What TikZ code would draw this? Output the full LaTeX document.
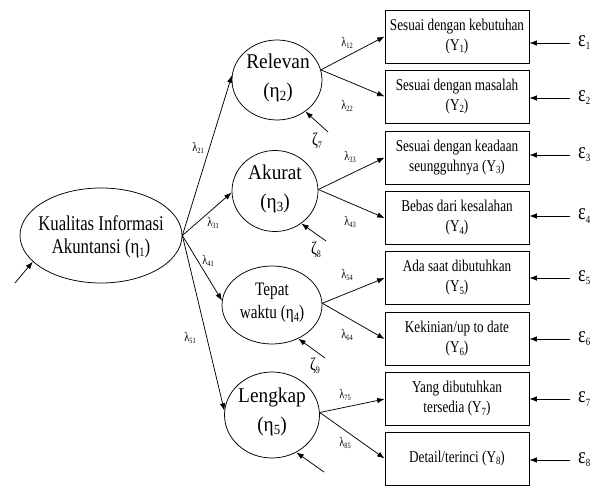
\documentclass[tikz,border=0pt]{standalone}
\usepackage{fontspec}
\setmainfont{Liberation Serif}[FakeStretch=0.8]
\newfontfamily\circfont{Liberation Serif}[FakeStretch=0.92]
\usetikzlibrary{arrows.meta,shapes.geometric}
\newcommand{\mysub}[2][8]{\raisebox{-0.3ex}{\fontsize{#1}{#1}\selectfont #2}}
\newcommand{\lamlab}[1]{λ\mysub[8]{#1}}
\begin{document}
\begin{tikzpicture}[x=1pt,y=-1pt,
  arr/.style={-{Latex[length=7.5pt,width=5.5pt]}, line width=0.75pt},
  lat/.style={ellipse, draw, line width=0.75pt, inner sep=0pt},
  lattext/.style={inner sep=0pt, align=center},
  ind/.style={rectangle, draw, line width=0.75pt, minimum width=144pt, minimum height=53pt,
              inner sep=1pt, align=center, font=\fontsize{16.5}{20}\selectfont},
  lab/.style={inner sep=0pt, font=\fontsize{13}{13}\selectfont},
  zlab/.style={inner sep=0pt, font=\fontsize{18}{18}\selectfont},
  elab/.style={inner sep=0pt, anchor=west, font=\fontsize{23}{23}\selectfont}]
\useasboundingbox (0,0) rectangle (599,486);

% latent variables (outline, then text)
\node[lat, minimum width=162pt, minimum height=95pt] (k) at (101,235.5) {};
\node[lattext, font=\fontsize{21}{23}\selectfont] (kt) at (101,237)
  {Kualitas Informasi\\Akuntansi (η\mysub[13]{1})};
\node[lat, minimum width=90pt, minimum height=80pt] (rel) at (277,80) {};
\node[lattext, font=\circfont\fontsize{21}{29}\selectfont] (relt) at (278,78)
  {Relevan\\(η\mysub[14]{2})};
\node[lat, minimum width=86pt, minimum height=81pt] (ak) at (275,191) {};
\node[lattext, font=\circfont\fontsize{21}{29}\selectfont] (akt) at (275,189)
  {Akurat\\(η\mysub[14]{3})};
\node[lat, minimum width=100pt, minimum height=78pt] (tw) at (272,305) {};
\node[lattext, font=\fontsize{19}{23}\selectfont] (twt) at (272,303)
  {Tepat\\waktu (η\mysub[13]{4})};
\node[lat, minimum width=95pt, minimum height=86pt] (lk) at (272,415) {};
\node[lattext, font=\circfont\fontsize{21}{29}\selectfont] (lkt) at (272,412)
  {Lengkap\\(η\mysub[14]{5})};

% indicators
\node[ind] (b1) at (457,36.5) {Sesuai dengan kebutuhan\\(Y\mysub[11]{1})};
\node[ind] (b2) at (457,96.5) {Sesuai dengan masalah\\(Y\mysub[11]{2})};
\node[ind] (b3) at (457,157.5) {Sesuai dengan keadaan\\seungguhnya (Y\mysub[11]{3})};
\node[ind] (b4) at (457,218) {Bebas dari kesalahan\\(Y\mysub[11]{4})};
\node[ind] (b5) at (457,278) {Ada saat dibutuhkan\\(Y\mysub[11]{5})};
\node[ind] (b6) at (457,339) {Kekinian/up to date\\(Y\mysub[11]{6})};
\node[ind] (b7) at (457,399) {Yang dibutuhkan\\tersedia (Y\mysub[11]{7})};
\node[ind] (b8) at (457,458.5) {Detail/terinci (Y\mysub[11]{8})};

% structural paths
\draw[arr] (k.east) -- (rel.174);
\draw[arr] (k.east) -- (ak.182);
\draw[arr] (k.east) -- (tw.175);
\draw[arr] (k.east) -- (lk.175);

% measurement paths
\draw[arr] (rel.13) -- (b1.west);
\draw[arr] (rel.13) -- (b2.west);
\draw[arr] (ak.2) -- (b3.west);
\draw[arr] (ak.2) -- (b4.west);
\draw[arr] (tw.2) -- (b5.west);
\draw[arr] (tw.2) -- (b6.west);
\draw[arr] (lk.3) -- (b7.west);
\draw[arr] (lk.3) -- (b8.west);

% loading labels
\node[lab] (l21) at (198,148) {\lamlab{21}};
\node[lab] (l31) at (213,223) {\lamlab{31}};
\node[lab] (l41) at (208,261) {\lamlab{41}};
\node[lab] (l51) at (190,338) {\lamlab{51}};
\node[lab] (l12) at (347,43) {\lamlab{12}};
\node[lab] (l22) at (347,106) {\lamlab{22}};
\node[lab] (l33) at (350,157) {\lamlab{33}};
\node[lab] (l43) at (350,222) {\lamlab{43}};
\node[lab] (l54) at (347,275) {\lamlab{54}};
\node[lab] (l64) at (347,335) {\lamlab{64}};
\node[lab] (l75) at (345,395) {\lamlab{75}};
\node[lab] (l85) at (345,443) {\lamlab{85}};

% disturbances
\coordinate (t1) at (15,283);
\coordinate (t7) at (328,132);
\coordinate (t8) at (326,241);
\coordinate (t9) at (325,358);
\coordinate (t10) at (324,472);
\draw[arr] (t1) -- (k.201);
\draw[arr] (t7) -- (rel.-48);
\draw[arr] (t8) -- (ak.-51);
\draw[arr] (t9) -- (tw.-52);
\draw[arr] (t10) -- (lk.-57);
\node[zlab] (z7) at (317,141) {ζ\mysub[10]{7}};
\node[zlab] (z8) at (316,250) {ζ\mysub[10]{8}};
\node[zlab] (z9) at (315,366) {ζ\mysub[10]{9}};

% measurement errors
\node[elab] (e1) at (578,43) {ε\mysub[11]{1}};
\node[elab] (e2) at (578,98) {ε\mysub[11]{2}};
\node[elab] (e3) at (578,155) {ε\mysub[11]{3}};
\node[elab] (e4) at (578,216) {ε\mysub[11]{4}};
\node[elab] (e5) at (578,278) {ε\mysub[11]{5}};
\node[elab] (e6) at (578,339) {ε\mysub[11]{6}};
\node[elab] (e7) at (578,399) {ε\mysub[11]{7}};
\node[elab] (e8) at (578,460) {ε\mysub[11]{8}};
\foreach \i in {1,...,8}{
  \draw[arr, shorten <=8pt] (e\i.west) -- (e\i.west -| b\i.east);
}
\end{tikzpicture}
\end{document}
